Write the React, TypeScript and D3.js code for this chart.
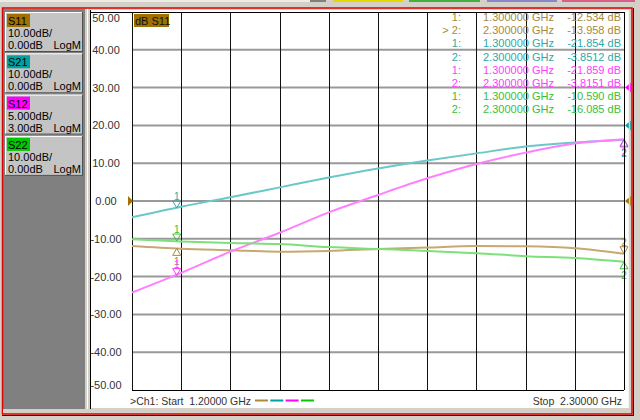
import React from "react";
import * as d3 from "d3";

// ---- data ----
const freqsGHz = [1.2, 1.31, 1.42, 1.53, 1.64, 1.75, 1.86, 1.97, 2.08, 2.19, 2.3];
const s11 = [-11.9, -12.6, -13.0, -13.4, -13.2, -12.7, -12.3, -11.9, -12.0, -12.5, -13.96];
const s21 = [-24.3, -21.5, -19.0, -16.4, -13.8, -11.4, -9.3, -7.4, -5.6, -4.5, -3.85];
const s12 = [-24.1, -21.5, -18.7, -16.2, -13.5, -11.2, -9.0, -7.1, -5.6, -4.4, -3.82];
const s22 = [-10.1, -10.7, -11.1, -11.4, -12.2, -12.7, -13.2, -13.8, -14.6, -15.1, -16.09];

const traceNames = ["S11", "S21", "S12", "S22"];
const scalePerDiv = [10, 10, 5, 10];
const refLevel = [0, 0, 3, 0];
const refPosition = [5, 7, 8, 5];
const scaleLabels = ["10.00dB/", "10.00dB/", "5.000dB/", "10.00dB/"];
const refLabels = ["0.00dB", "0.00dB", "3.00dB", "0.00dB"];

const markerFreqs = [1.3, 2.3];
const markerValues = [
  [-12.534, -13.958],
  [-21.854, -3.8512],
  [-21.859, -3.8151],
  [-10.59, -16.085],
];
const yTicks = [50, 40, 30, 20, 10, 0, -10, -20, -30, -40, -50];
const startLabel = ">Ch1: Start  1.20000 GHz";
const stopLabel = "Stop  2.30000 GHz";

// ---- styles ----
const traceColors = ["#c8a870", "#6cc8c8", "#ff80ff", "#7ce07c"];
const textColors = ["#a8883c", "#30a8a8", "#ff3cff", "#38c038"];
const labelBg = ["#a07000", "#00a0a0", "#ff00ff", "#00c800"];
const markerBelow = [
  [true, false],
  [false, true],
  [false, true],
  [false, true],
];

const L = 132, R = 624, T = 12, B = 390;
const FONT = "'Liberation Sans', Arial, sans-serif";

export default function App() {
  const x = d3.scaleLinear().domain([1.2, 2.3]).range([L, R]);
  const yFor = (i: number) =>
    d3
      .scaleLinear()
      .domain([
        refLevel[i] - refPosition[i] * scalePerDiv[i],
        refLevel[i] + (10 - refPosition[i]) * scalePerDiv[i],
      ])
      .range([B, T]);
  const yMain = yFor(0);
  const series = [s11, s21, s12, s22];
  const xGrid = d3.range(0, 11).map((k) => 1.2 + (k * 1.1) / 10);

  const tri = (cx: number, apex: number, up: boolean) => {
    const h = 7, w = 4;
    const base = up ? apex + h : apex - h;
    return `M${cx},${apex}L${cx - w},${base}L${cx + w},${base}Z`;
  };

  return (
    <svg
      width={640}
      height={420}
      style={{ position: "absolute", left: 0, top: 0 }}
      fontFamily={FONT}
    >
      {/* window background */}
      <rect x={0} y={0} width={640} height={420} fill="#d4d0c8" />
      <rect x={0} y={0} width={310} height={2} fill="#ecebe6" />
      <rect x={310} y={0} width={16} height={2} fill="#808080" />
      <rect x={333} y={0} width={70} height={2} fill="#e8d800" />
      <rect x={409} y={0} width={71} height={2} fill="#40b040" />
      <rect x={487} y={0} width={70} height={2} fill="#8888c8" />
      <rect x={562} y={0} width={73} height={2} fill="#d86088" />

      {/* left panel */}
      <rect x={3} y={9} width={82} height={400} fill="#808080" />
      {traceNames.map((n, i) => {
        const by = 12 + i * 41.3;
        return (
          <g key={n}>
            <rect x={5} y={by} width={78} height={40} fill="#c4c4c4" />
            <line x1={5} y1={by + 0.5} x2={83} y2={by + 0.5} stroke="#ffffff" />
            <line x1={5.5} y1={by} x2={5.5} y2={by + 40} stroke="#ffffff" />
            <line x1={5} y1={by + 39.5} x2={83} y2={by + 39.5} stroke="#505050" />
            <line x1={82.5} y1={by} x2={82.5} y2={by + 40} stroke="#505050" />
            <rect x={7} y={by + 2} width={23} height={13} fill={labelBg[i]} />
            <text x={8} y={by + 13} fontSize={11} fill="#000">{n}</text>
            <text x={8} y={by + 25} fontSize={11} fill="#000">{scaleLabels[i]}</text>
            <text x={8} y={by + 37} fontSize={11} fill="#000">{refLabels[i]}</text>
            <text x={81} y={by + 37} fontSize={11} fill="#000" textAnchor="end">LogM</text>
          </g>
        );
      })}
      <rect x={85} y={9} width={6} height={400} fill="#d4d0c8" />
      <line x1={87.5} y1={9} x2={87.5} y2={409} stroke="#ffffff" />

      {/* plot white panel */}
      <rect x={91} y={10} width={538} height={398} fill="#ffffff" />
      <line x1={90.5} y1={10} x2={90.5} y2={409} stroke="#000" />
      <line x1={91} y1={12.5} x2={R} y2={12.5} stroke="#000" />

      {/* horizontal grid */}
      {yTicks.slice(1, -1).map((t) => (
        <line key={t} x1={L} x2={R} y1={yMain(t)} y2={yMain(t)} stroke="#999" strokeWidth={2} />
      ))}
      <line x1={L} x2={R} y1={B + 0.5} y2={B + 0.5} stroke="#000" />
      {/* vertical grid */}
      {xGrid.map((f, k) => (
        <line key={k} x1={Math.round(x(f)) + 0.5} x2={Math.round(x(f)) + 0.5} y1={T} y2={B} stroke="#111" />
      ))}

      {/* y labels */}
      {yTicks.map((t) => (
        <text
          key={t}
          x={106}
          y={Math.min(Math.max(yMain(t), 18), 385) + 4}
          fontSize={11}
          textAnchor="middle"
          fill="#333"
        >
          {t.toFixed(2)}
        </text>
      ))}

      {/* active trace label */}
      <rect x={134} y={14} width={35} height={13} fill={labelBg[0]} />
      <text x={135} y={25} fontSize={11} fill="#111">dB S11</text>

      {/* traces */}
      {series.map((vals, i) => {
        const y = yFor(i);
        const line = d3
          .line<number>()
          .x((_, k) => x(freqsGHz[k]))
          .y((v) => y(v))
          .curve(d3.curveMonotoneX);
        return (
          <path key={i} d={line(vals) || ""} fill="none" stroke={traceColors[i]} strokeWidth={2} />
        );
      })}

      {/* markers */}
      {markerValues.map((mv, i) => {
        const y = yFor(i);
        return mv.map((v, m) => {
          const cx = x(markerFreqs[m]);
          const apex = y(v);
          const below = markerBelow[i][m];
          const ly = below ? apex + 13 : apex - 12;
          return (
            <g key={`${i}-${m}`}>
              <path d={tri(cx, apex, below)} fill="none" stroke={textColors[i]} strokeWidth={1} />
              <text x={cx} y={ly + 4} fontSize={10} textAnchor="middle" fill={textColors[i]}>
                {m + 1}
              </text>
            </g>
          );
        });
      })}

      {/* reference level arrows */}
      <path
        d={`M${L - 4},${yMain(0) - 5}L${L + 1},${yMain(0)}L${L - 4},${yMain(0) + 5}Z`}
        fill="#a07000"
      />
      {[2, 1, 0].map((i) => {
        const ry = yFor(i)(refLevel[i]);
        return (
          <path
            key={i}
            d={`M${R + 7},${ry - 5}L${R + 1},${ry}L${R + 7},${ry + 5}Z`}
            fill={i === 0 ? "#a07000" : i === 1 ? "#00a0a0" : "#ff00ff"}
          />
        );
      })}

      {/* marker table */}
      {markerValues.map((mv, i) =>
        mv.map((v, m) => {
          const row = i * 2 + m;
          const by = 21 + row * 13.2;
          const lbl = i === 0 && m === 1 ? "> 2:" : `${m + 1}:`;
          return (
            <g key={`t${row}`} fill={textColors[i]} fontSize={11}>
              <text x={461} y={by} textAnchor="end" xmlSpace="preserve">{lbl}</text>
              <text x={483} y={by}>{`${markerFreqs[m].toFixed(6)} GHz`}</text>
              <text x={621} y={by} textAnchor="end">{`${v.toPrecision(5)} dB`}</text>
            </g>
          );
        })
      )}

      {/* bottom annotation */}
      <text x={130} y={405} fontSize={10.5} fill="#333" xmlSpace="preserve" style={{ whiteSpace: "pre" }}>
        {startLabel}
      </text>
      {traceColors.map((c, i) => (
        <line key={c} x1={255 + i * 15.3} x2={268 + i * 15.3} y1={400.5} y2={400.5} stroke={labelBg[i] === "#a07000" ? "#b08838" : labelBg[i]} strokeWidth={2} />
      ))}
      <text x={622} y={405} fontSize={10.5} fill="#333" textAnchor="end" xmlSpace="preserve" style={{ whiteSpace: "pre" }}>
        {stopLabel}
      </text>

      {/* right border and window frame */}
      <line x1={R + 0.5} y1={T} x2={R + 0.5} y2={B} stroke="#000" />
      <line x1={629.5} y1={10} x2={629.5} y2={409} stroke="#e0d0b8" strokeWidth={1.5} />
      <rect x={2.5} y={8} width={629.5} height={406} fill="none" stroke="#e00000" strokeWidth={1.5} />
      <line x1={633.5} y1={8} x2={633.5} y2={416} stroke="#500000" />
      <line x1={2} y1={415.5} x2={634} y2={415.5} stroke="#500000" />
      <rect x={3} y={409} width={628} height={4} fill="#d4d0c8" />
    </svg>
  );
}
